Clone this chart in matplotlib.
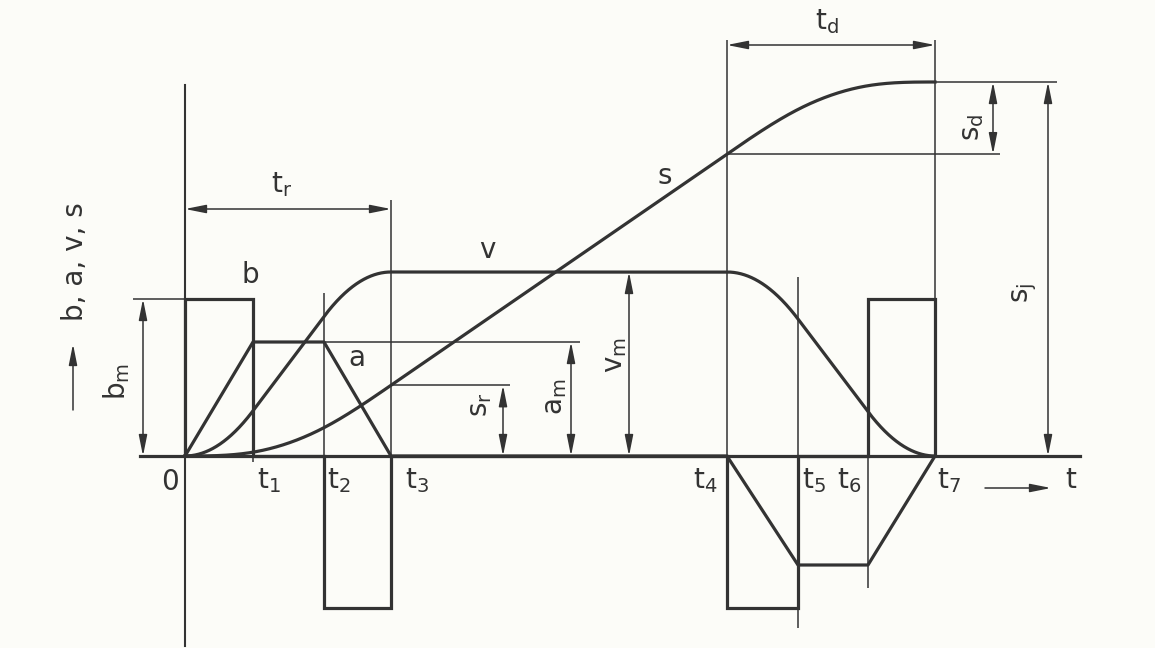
import numpy as np
import matplotlib.pyplot as plt

plt.rcParams['font.family'] = 'DejaVu Sans'
plt.rcParams['mathtext.default'] = 'regular'

# switching instants t0..t7
t = np.array([0, 68, 139, 206, 542, 613, 683, 750])
t_names = ['0', '$t_1$', '$t_2$', '$t_3$', '$t_4$', '$t_5$', '$t_6$', '$t_7$']

# jerk b on each interval, acceleration a at each instant
b_pos, b_neg = 157, 152
b_levels = [b_pos, 0, -b_neg, 0, -b_neg, 0, b_pos]
am_pos, am_neg = 114, 109
a_knots = [0, am_pos, am_pos, 0, 0, -am_neg, -am_neg, 0]
vm = 184          # max velocity
sj = 374          # total travel
s_end = 872       # end of the s plateau line

ink = '#333333'
bg = '#fcfcf8'
thick, thin = 2.3, 1.1

# v and s from integrating a
tt = np.linspace(0, t[-1], 3000)
a = np.interp(tt, t, a_knots)
v_raw = np.concatenate([[0], np.cumsum((a[1:] + a[:-1]) / 2 * np.diff(tt))])
acc_area = np.interp(t[3], tt, v_raw)
dec_area = np.interp(t[4], tt, v_raw) - v_raw[-1]
v = np.where(tt <= t[4], v_raw / acc_area * vm,
             vm * (1 - (np.interp(t[4], tt, v_raw) - v_raw) / dec_area))
v = np.clip(v, 0, vm)
s_raw = np.concatenate([[0], np.cumsum((v[1:] + v[:-1]) / 2 * np.diff(tt))])
s = s_raw / s_raw[-1] * sj
sr = np.interp(t[3], tt, s)
s4 = np.interp(t[4], tt, s)

fig = plt.figure(figsize=(11.55, 6.48), dpi=100, facecolor=bg)
ax = fig.add_axes([0, 0, 1, 1])
ax.set_facecolor(bg)
ax.set_xlim(-185, 970)
ax.set_ylim(-192, 456)
ax.axis('off')

# axes
ax.plot([0, 0], [371, -190], color=ink, lw=1.5)
ax.plot([-45, 895], [0, 0], color=ink, lw=thick)

# curves
ax.stairs(b_levels, t, baseline=0, color=ink, lw=thick)
ax.plot(t, a_knots, color=ink, lw=thick)
ax.plot(tt, v, color=ink, lw=thick)
ax.plot(tt, s, color=ink, lw=thick)

# thin construction lines at the instants
v_tops = [-6, b_pos + 6, 256, 416, 179, b_pos, 416]
v_bots = [0, -b_neg, -b_neg, -b_neg - 2, -172, -132, 0]
ax.vlines(t[1:], v_bots, v_tops, color=ink, lw=thin)

# extension lines
ax.hlines(b_pos, -52, 0, color=ink, lw=thin)
ax.hlines(am_pos, t[2], 395, color=ink, lw=thin)
ax.hlines(sr, t[3], 325, color=ink, lw=thin)
ax.hlines(s4, t[4], 815, color=ink, lw=thin)
ax.hlines(sj, t[7], s_end, color=ink, lw=thin)


def dim(p0, p1):
    ax.annotate('', xy=p1, xytext=p0,
                arrowprops=dict(arrowstyle='<|-|>,head_length=0.9,head_width=0.18',
                                mutation_scale=14, color=ink, lw=thin,
                                shrinkA=0, shrinkB=0))


dim((-42, 0), (-42, b_pos))
dim((386, 0), (386, am_pos))
dim((444, 0), (444, vm))
dim((318, 0), (318, sr))
dim((808, s4), (808, sj))
dim((863, 0), (863, sj))
dim((0, 247), (t[3], 247))
dim((t[4], 411), (t[7], 411))

fs = 20
txt = dict(color=ink, fontsize=fs)

# instant labels
t_pos = [(-24, -12), (72, -10), (142, -10), (220, -10), (508, -10),
         (617, -10), (652, -10), (752, -10)]
for name, (x, y) in zip(t_names, t_pos):
    ax.text(x, y, name, ha='left', va='top', **txt)

ax.annotate('', xy=(866, -32), xytext=(800, -32),
            arrowprops=dict(arrowstyle='-|>,head_length=0.9,head_width=0.18',
                            mutation_scale=14, color=ink, lw=thin,
                            shrinkA=0, shrinkB=0))
ax.text(880, -10, 't', ha='left', va='top', **txt)

# curve names
ax.text(65, 181, 'b', ha='center', va='center', **txt)
ax.text(172, 98, 'a', ha='center', va='center', **txt)
ax.text(302, 206, 'v', ha='center', va='center', **txt)
ax.text(480, 280, 's', ha='center', va='center', **txt)
ax.text(97, 271, '$t_r$', ha='center', va='center', **txt)
ax.text(642, 434, '$t_d$', ha='center', va='center', **txt)

# dimension names
for x, y, lab in [(-68, 75, '$b_m$'), (295, 51, '$s_r$'), (370, 59, '$a_m$'),
                  (430, 101, '$v_m$'), (787, 329, '$s_d$'), (840, 163, '$s_j$')]:
    ax.text(x, y, lab, ha='center', va='center', rotation=90, **txt)

# vertical quantity label
ax.annotate('', xy=(-112, 112), xytext=(-112, 46),
            arrowprops=dict(arrowstyle='-|>,head_length=0.9,head_width=0.18',
                            mutation_scale=14, color=ink, lw=thin,
                            shrinkA=0, shrinkB=0))
ax.text(-110, 194, 'b, a, v, s', ha='center', va='center', rotation=90, **txt)

fig.savefig('out.png', dpi=100, facecolor=bg)
